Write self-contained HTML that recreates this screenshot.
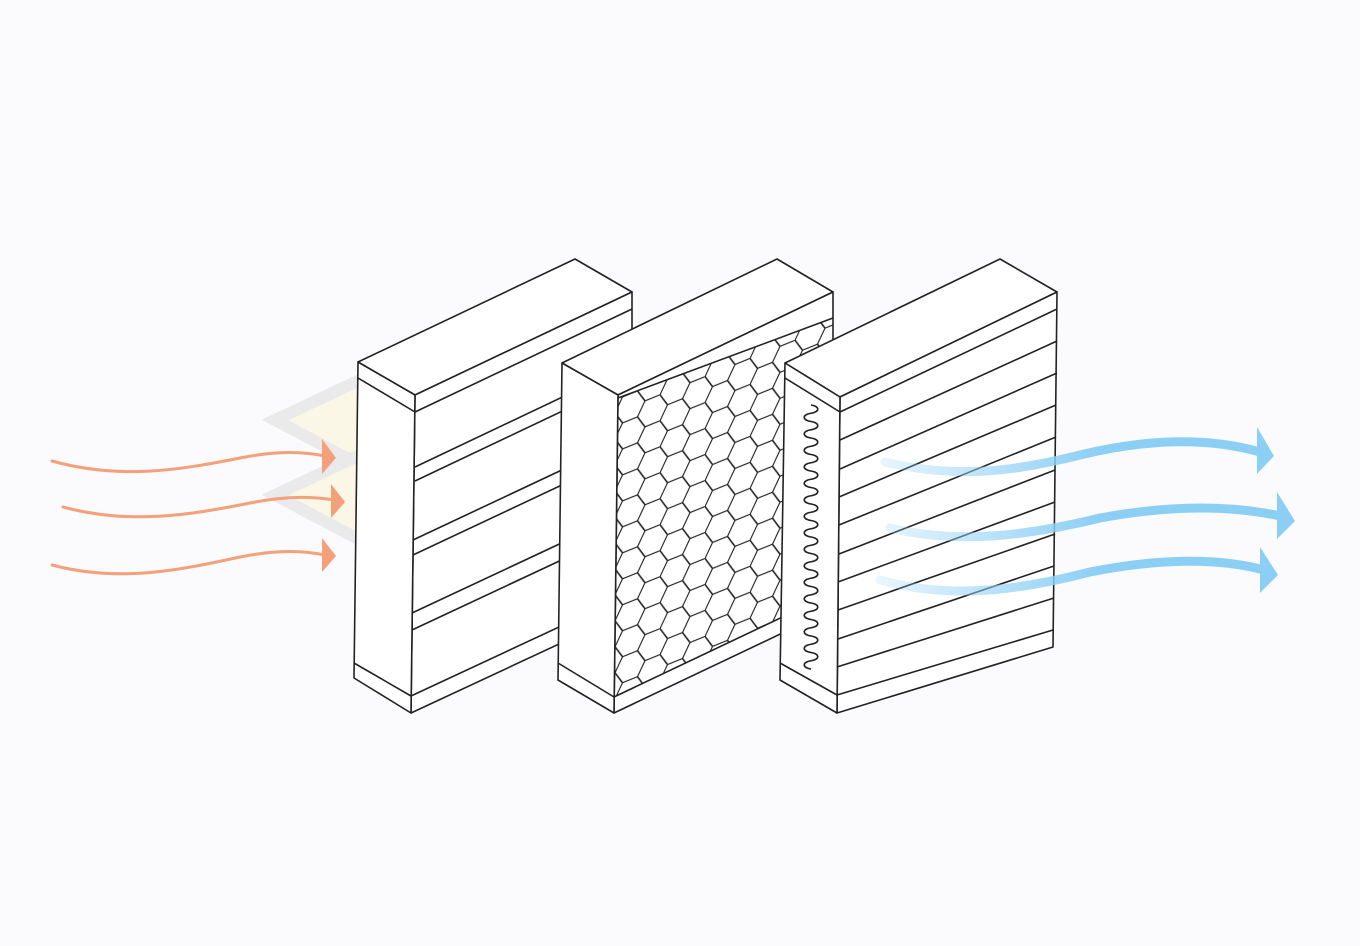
<!DOCTYPE html>
<html><head><meta charset="utf-8"><style>
html,body{margin:0;padding:0;background:#fbfbfd;}
svg{display:block}
</style></head><body>
<svg width="1360" height="946" viewBox="0 0 1360 946" xmlns="http://www.w3.org/2000/svg">
<defs>
<pattern id="hex" width="45" height="25.98" patternUnits="userSpaceOnUse" patternTransform="translate(615,400) skewY(-22)">
<path d="M0,12.99 L7.5,0 L22.5,0 L30,12.99 L22.5,25.98 L7.5,25.98 Z M30,12.99 L45,12.99" fill="none" stroke="#222" stroke-width="1.3"/>
</pattern>
<linearGradient id="bf" x1="880" y1="0" x2="1100" y2="0" gradientUnits="userSpaceOnUse">
<stop offset="0" stop-color="#8ccff5" stop-opacity="0.2"/><stop offset="1" stop-color="#8ccff5" stop-opacity="1"/>
</linearGradient>
</defs>
<rect width="1360" height="946" fill="#fbfbfd"/>

<g opacity="0.35">
<path d="M275,420 L360,380 L450,420 L360,465 Z" fill="#fdf0c0" stroke="#ccc" stroke-width="12"/>
<path d="M355,460 L440,420 L525,460 L440,505 Z" fill="#fdf0c0" stroke="#ccc" stroke-width="12"/>
<path d="M275,495 L360,455 L445,495 L360,540 Z" fill="#fdf0c0" stroke="#ccc" stroke-width="12"/>
</g>

<g fill="none" stroke="#f4a07a" stroke-width="3" stroke-linecap="round">
<path d="M52,461 C120,480 180,470 240,458 C280,450 305,452 325,456"/>
<path d="M63,507 C130,525 190,515 250,503 C290,495 315,497 335,500"/>
<path d="M52,565 C120,583 180,570 240,557 C280,549 305,551 325,555"/>
</g>
<g fill="#f4a07a">
<path d="M322,439 L336,458 L322,474 Z"/>
<path d="M331,484 L345,502 L331,518 Z"/>
<path d="M322,538 L336,556 L322,572 Z"/>
</g>

<g stroke="#222" stroke-width="1.6" stroke-linejoin="round" fill="#fff">
<polygon points="358,362 575,259 632,292 415,395"/>
<polygon points="415,395 632,292 632,610 411,713"/>
<polygon points="358,362 415,395 411,713 354,678"/>
<g fill="none">
<line x1="358" y1="378" x2="415" y2="412"/>
<line x1="354" y1="663" x2="411" y2="696"/>
<line x1="415" y1="412" x2="632" y2="309"/>
<line x1="411" y1="696" x2="632" y2="593"/>
<line x1="415" y1="467" x2="632" y2="364"/>
<line x1="415" y1="481" x2="632" y2="378"/>
<line x1="413" y1="540" x2="632" y2="437"/>
<line x1="413" y1="555" x2="632" y2="452"/>
<line x1="412" y1="613" x2="632" y2="510"/>
<line x1="412" y1="630" x2="632" y2="527"/>
</g>
</g>

<g stroke="#222" stroke-width="1.6" stroke-linejoin="round" fill="#fff">
<polygon points="562,363 777,259 833,292 618,395"/>
<polygon points="618,395 833,292 833,609 614,713"/>
<polygon points="618,398 833,318 833,593 614,697" fill="url(#hex)" stroke="none"/>
<polygon points="562,363 618,395 614,713 558,680"/>
<g fill="none">
<line x1="618" y1="398" x2="833" y2="318"/>
<line x1="558" y1="663" x2="614" y2="697"/>
<line x1="614" y1="697" x2="833" y2="593"/>
</g>
</g>

<g stroke="#222" stroke-width="1.6" stroke-linejoin="round" fill="#fff">
<polygon points="785,363 1000,259 1057,292 840,397"/>
<polygon points="840,397 1057,292 1053,647 837,713"/>
<polygon points="785,363 840,397 837,713 780,680"/>
<g fill="none">
<line x1="785" y1="378" x2="840" y2="412"/>
<line x1="780" y1="663" x2="837" y2="695"/>
<line x1="840" y1="412" x2="1057" y2="309"/>
<line x1="840" y1="440" x2="1057" y2="341"/>
<line x1="840" y1="469" x2="1057" y2="373"/>
<line x1="839" y1="497" x2="1056" y2="405"/>
<line x1="839" y1="525" x2="1056" y2="437"/>
<line x1="839" y1="554" x2="1055" y2="470"/>
<line x1="838" y1="582" x2="1055" y2="502"/>
<line x1="838" y1="610" x2="1055" y2="534"/>
<line x1="838" y1="639" x2="1054" y2="566"/>
<line x1="837" y1="667" x2="1054" y2="598"/>
<line x1="837" y1="695" x2="1053" y2="630"/>
<path d="M811,405 c9,1.5 9,6.75 0,8.25 c-9,1.5 -9,6.75 0,8.25 c9,1.5 9,6.75 0,8.25 c-9,1.5 -9,6.75 0,8.25 c9,1.5 9,6.75 0,8.25 c-9,1.5 -9,6.75 0,8.25 c9,1.5 9,6.75 0,8.25 c-9,1.5 -9,6.75 0,8.25 c9,1.5 9,6.75 0,8.25 c-9,1.5 -9,6.75 0,8.25 c9,1.5 9,6.75 0,8.25 c-9,1.5 -9,6.75 0,8.25 c9,1.5 9,6.75 0,8.25 c-9,1.5 -9,6.75 0,8.25 c9,1.5 9,6.75 0,8.25 c-9,1.5 -9,6.75 0,8.25 c9,1.5 9,6.75 0,8.25 c-9,1.5 -9,6.75 0,8.25 c9,1.5 9,6.75 0,8.25 c-9,1.5 -9,6.75 0,8.25 c9,1.5 9,6.75 0,8.25 c-9,1.5 -9,6.75 0,8.25 c9,1.5 9,6.75 0,8.25 c-9,1.5 -9,6.75 0,8.25 c9,1.5 9,6.75 0,8.25 c-9,1.5 -9,6.75 0,8.25 c9,1.5 9,6.75 0,8.25 c-9,1.5 -9,6.75 0,8.25 c9,1.5 9,6.75 0,8.25 c-9,1.5 -9,6.75 0,8.25 c9,1.5 9,6.75 0,8.25 c-9,1.5 -9,6.75 0,8.25"/>
</g>
</g>

<g fill="none" stroke="url(#bf)" stroke-width="9" stroke-linecap="round">
<path d="M885,462 C960,480 1020,470 1080,455 C1150,438 1210,438 1260,452"/>
<path d="M890,528 C960,545 1030,535 1100,518 C1170,505 1230,505 1280,516"/>
<path d="M880,580 C950,600 1020,590 1090,572 C1160,558 1220,558 1264,570"/>
</g>
<g fill="#8ccff5">
<path d="M1257,427 L1274,456 L1257,474 Z"/>
<path d="M1277,492 L1295,521 L1277,539 Z"/>
<path d="M1260,547 L1278,575 L1260,593 Z"/>
</g>
</svg>
</body></html>
